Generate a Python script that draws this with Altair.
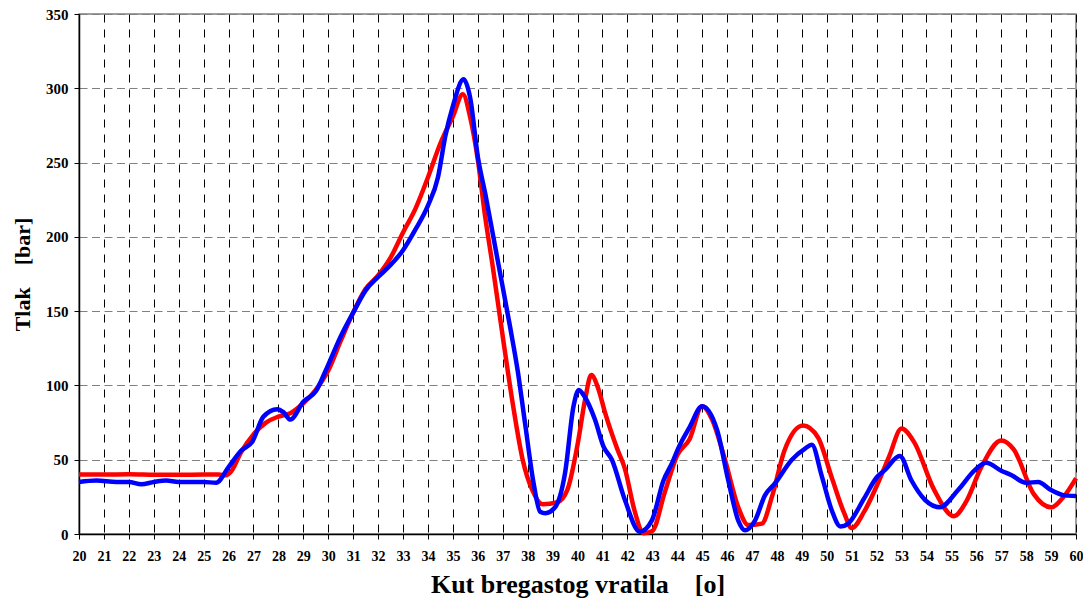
import altair as alt
import pandas as pd

# Red series (angle, pressure)
red_x = [20, 21, 22, 23, 24, 25, 25.6, 25.9, 26.1, 26.5, 27.0, 27.5, 28.0, 28.5, 29.0, 29.5,
         30.0, 30.5, 31.0, 31.5, 32.0, 32.5, 33.0, 33.5, 34.0, 34.5, 35.0, 35.4, 35.7, 36.0,
         36.3, 36.6, 37.0, 37.4, 37.8, 38.2, 38.6, 39.2, 39.6, 40.0, 40.3, 40.55, 40.85, 41.1,
         41.6, 41.9, 42.3, 42.65, 43.0, 43.5, 44.0, 44.5, 45.0, 45.4, 45.9, 46.45, 46.85, 47.4,
         47.8, 48.3, 49.05, 49.65, 50.2, 50.7, 51.0, 51.5, 52.1, 52.5, 53.0, 53.5, 54.3, 55.1,
         55.6, 56.2, 57.0, 57.5, 58.3, 59.0, 59.5, 60.0]
red_y = [40, 40, 40.2, 39.9, 39.8, 40, 40, 39.5, 42, 55, 67, 75, 79, 81.5, 88, 97,
         110, 130, 149, 165, 174, 186, 203, 219, 240, 263, 281, 296, 280, 252,
         213, 180, 133, 88, 50, 29, 20, 21.5, 30, 60, 90, 107, 97, 82,
         57, 44, 15, 0.5, 2, 28, 53, 64, 86, 77, 51, 18, 6, 7,
         25, 56, 73, 65, 38, 14, 4, 15, 36, 52, 71, 62, 30, 12,
         22, 45, 63, 57, 27, 18, 25, 37.5]

# Blue series (angle, pressure)
blue_x = [20, 20.7, 21.5, 22, 22.5, 23, 23.5, 24, 25, 25.5, 26.0, 26.5, 26.95, 27.4, 27.95,
          28.2, 28.48, 29.0, 29.5, 29.95, 30.5, 31.0, 31.5, 32.0, 32.5, 33.0, 33.5, 34.0,
          34.4, 34.7, 35.0, 35.43, 35.7, 36.0, 36.3, 36.8, 37.3, 37.6, 37.9, 38.24, 38.5,
          38.71, 39.1, 39.5, 39.84, 40.05, 40.3, 40.7, 41.04, 41.38, 41.9, 42.5, 42.98, 43.45,
          43.8, 44.05, 44.5, 45.0, 45.6, 46.05, 46.45, 46.72, 47.12, 47.52, 47.92, 48.6, 49.13,
          49.4, 49.8, 50.2, 50.55, 50.86, 51.5, 52.0, 52.33, 52.93, 53.4, 53.94, 54.54, 55.27,
          55.94, 56.4, 57.0, 57.4, 58.0, 58.48, 59.0, 59.55, 60.0]
blue_y = [35, 36, 35, 35, 33.5, 35, 36, 35, 35, 34.5, 45, 56, 62, 79, 84,
          82, 77, 89, 96, 112, 133, 149, 164, 173, 181, 191, 205, 221,
          240, 268, 288, 306, 293, 254, 229, 184, 139, 110, 74, 34, 15,
          14, 18, 41, 86, 97, 92, 77, 59, 50, 23, 1.5, 9, 36,
          48, 58, 72, 86, 70, 36, 9, 2.5, 9, 26, 34, 50, 57.5,
          60, 39, 16, 5, 7, 24, 38, 43, 52.5, 36, 23, 18, 29.6,
          43, 48, 42.6, 39.7, 34.5, 35, 29.6, 26, 25.6]

x_ticks = list(range(20, 61))
y_ticks = [0, 50, 100, 150, 200, 250, 300, 350]

red_df = pd.DataFrame({"x": red_x, "y": red_y})
blue_df = pd.DataFrame({"x": blue_x, "y": blue_y})

FONT = "Liberation Serif"
NB = "\u00a0"

x_enc = alt.X(
    "x:Q",
    scale=alt.Scale(domain=[20, 60], nice=False, zero=False),
    axis=alt.Axis(
        values=x_ticks,
        title="Kut bregastog vratila" + NB * 4 + "[o]",
        grid=True, gridColor="black", gridDash=[8, 7], gridWidth=1,
        domainColor="black", domainWidth=1.5,
        tickColor="black", tickSize=5, tickWidth=1,
        labelFont=FONT, labelFontSize=14, labelFontWeight="bold", labelColor="black",
        labelPadding=10, labelFlush=False, labelOverlap=False,
        titleFont=FONT, titleFontSize=26, titleFontWeight="bold", titleColor="black",
        titleY=58, titleBaseline="alphabetic",
    ),
)
y_enc = alt.Y(
    "y:Q",
    scale=alt.Scale(domain=[0, 350], nice=False),
    axis=alt.Axis(
        values=y_ticks,
        title="Tlak" + NB * 4 + "[bar]",
        grid=True, gridColor="#808080", gridDash=[8, 4.5], gridWidth=1,
        domainColor="black", domainWidth=1.5,
        tickColor="black", tickSize=5, tickWidth=1,
        labelFont=FONT, labelFontSize=15, labelFontWeight="bold", labelColor="black",
        labelPadding=6, labelFlush=False,
        titleFont=FONT, titleFontSize=22, titleFontWeight="bold", titleColor="black",
        titleX=-57, titleBaseline="middle",
    ),
)

red_line = alt.Chart(red_df).mark_line(
    color="#FF0000", strokeWidth=4.5, interpolate="monotone"
).encode(x=x_enc, y=y_enc)

blue_line = alt.Chart(blue_df).mark_line(
    color="#0000FF", strokeWidth=4.5, interpolate="monotone"
).encode(x=x_enc, y=y_enc)

chart = alt.layer(red_line, blue_line).properties(
    width=997,
    height=520,
    autosize=alt.AutoSizeParams(type="none"),
    padding={"left": 71, "top": 6, "right": 7, "bottom": 65},
    background="white",
).configure_view(
    stroke="#808080", strokeWidth=1.5
)

chart.save("out.html", embed_options={"renderer": "svg", "actions": False})
